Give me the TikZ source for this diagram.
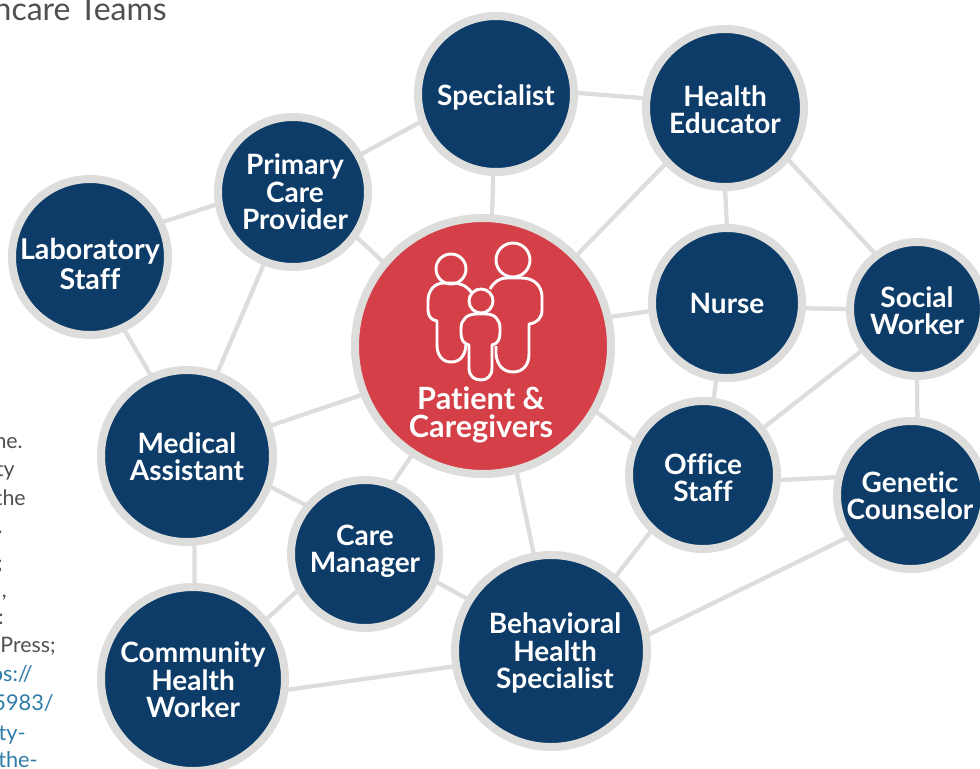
\documentclass[tikz,border=0pt]{standalone}
\usepackage{fontspec}
\usetikzlibrary{backgrounds}
\setmainfont[Ligatures=NoCommon]{Lato}
\definecolor{navy}{HTML}{0D3C69}
\definecolor{ring}{HTML}{DDDEDC}
\definecolor{redc}{HTML}{D43F48}
\definecolor{txt}{HTML}{505050}
\definecolor{lnk}{HTML}{2F7CA8}
\tikzset{
 person/.style={circle,fill=navy,draw=ring,line width=6pt,inner sep=0pt,outer sep=0pt},
 lab/.style={inner sep=0pt,text=white,align=center,font=\fontsize{21}{20.5}\selectfont\bfseries},
 link/.style={draw=ring,line width=3.2pt},
 fig/.style={draw=white,line width=2.2pt,line join=round},
 note/.style={inner sep=0pt,text=txt,anchor=base east,font=\fontsize{16}{16}\selectfont},
 url/.style={inner sep=0pt,text=lnk,anchor=base east,font=\fontsize{16.3}{17}\selectfont}
}
\begin{document}
\begin{tikzpicture}[x=0.75pt,y=-0.75pt]
\useasboundingbox (0,0) rectangle (980,768);
\node[person,minimum size=117pt] (nSp) at (496,94) {};
\node[person,minimum size=118.5pt] (nHe) at (725,108) {};
\node[person,minimum size=112.5pt] (nPc) at (293,192) {};
\node[person,minimum size=117pt] (nLa) at (90,257) {};
\node[person,minimum size=112.5pt] (nNu) at (727,303) {};
\node[person,minimum size=100.5pt] (nSo) at (917,309) {};
\node[person,minimum size=111pt] (nOf) at (703,475) {};
\node[person,minimum size=111pt] (nGe) at (911,495) {};
\node[person,minimum size=129pt] (nMe) at (187,456) {};
\node[person,minimum size=111pt] (nCa) at (365,554) {};
\node[person,minimum size=144pt] (nBe) at (551,651) {};
\node[person,minimum size=138pt] (nCo) at (193,679) {};
\node[person,fill=redc,minimum size=192pt] (nPa) at (483,346) {};
\begin{scope}[on background layer]
\foreach \a/\aa/\b/\bb in {Sp/1/He/173,Sp/200/Pc/29,Sp/268/Pa/86.5,He/223.5/Pa/44,He/270/Nu/90,He/-39/So/127,
 Pc/189.5/La/26,Pc/-35.6/Pa/140.6,Pc/248/Me/70,La/-65/Me/114,Pa/13/Nu/186.5,Pa/202.5/Me/20,Pa/237/Ca/69,
 Pa/-30/Of/154,Pa/-75.7/Be/100,Nu/-4/So/180,Nu/262/Of/82.5,So/217/Of/38,So/270/Ge/85.5,Of/-4.5/Ge/166.7,
 Of/227.6/Be/49,Ge/214/Be/9,Me/-20/Ca/140,Me/-85.5/Co/89,Ca/208/Co/39.6,Ca/-21/Be/148,Co/-7/Be/189}
  \draw[link] (n\a.\aa) -- (n\b.\bb);
\end{scope}
\node[lab] (tSp) at (496,97) {Specialist};
\node[lab] (tHe) at (725,109.5) {Health\\Educator};
\node[lab] (tPc) at (295,192) {Primary\\Care\\Provider};
\node[lab,font=\fontsize{21.5}{22}\selectfont\bfseries] (tLa) at (90,264) {Laboratory\\Staff};
\node[lab] (tNu) at (727,303) {Nurse};
\node[lab] (tSo) at (917,311) {Social\\Worker};
\node[lab] (tOf) at (703,477.5) {Office\\Staff};
\node[lab] (tGe) at (910,496) {Genetic\\Counselor};
\node[lab] (tMe) at (187,457) {Medical\\Assistant};
\node[lab] (tCa) at (365,551) {Care\\Manager};
\node[lab] (tBe) at (555,653) {Behavioral\\Health\\Specialist};
\node[lab] (tCo) at (193,680) {Community\\Health\\Worker};
\node[lab,font=\fontsize{23}{20.5}\selectfont\bfseries] (tPa) at (481,415) {Patient \&\\Caregivers};
% family icon
\draw[fig] (451,269) circle (15);
\draw[fig] (513,260) circle (17);
\draw[fig] (481,301) circle (12);
\draw[fig] (472,293) .. controls (466,285) and (460,283) .. (452,283) -- (444,283)
  .. controls (434,283) and (428,291) .. (428,301) -- (428,310)
  .. controls (428,316) and (431,320) .. (437,321) -- (437,345)
  .. controls (437,356) and (443,362) .. (451,362)
  .. controls (459,362) and (465,357) .. (466,345);
\draw[fig] (490,289) .. controls (494,282) and (499,278) .. (507,278) -- (522,278)
  .. controls (534,278) and (542,286) .. (542,297) -- (542,310)
  .. controls (542,318) and (537,323) .. (529,324) -- (529,354)
  .. controls (529,366) and (522,372) .. (513,372)
  .. controls (504,372) and (497,366) .. (496,354) -- (496,346);
\draw[fig] (476,314) -- (486,314) .. controls (495,314) and (500,320) .. (500,328) -- (500,333)
  .. controls (500,340) and (497,344) .. (492,345) -- (492,368)
  .. controls (492,376) and (487,380) .. (481,380)
  .. controls (474,380) and (469,376) .. (469,368) -- (469,345)
  .. controls (464,344) and (461,340) .. (461,333) -- (461,328)
  .. controls (461,320) and (467,314) .. (476,314);
% page text cut by the crop
\begin{scope}
\clip (0,0) rectangle (980,768);
\node[anchor=base east,inner sep=0pt,text=txt,font=\fontsize{24}{24}\selectfont] (title) at (167,20) {ncare Teams};
\node[note] (t1) at (23,448) {ne.};
\node[note] (t2) at (15,476) {ty};
\node[note] (t3) at (26,505) {the};
\node[note] (t4) at (3,533) {.};
\node[note] (t5) at (3,570) {;};
\node[note] (t6) at (7,597) {,};
\node[note] (t7) at (4,624) {:};
\node[note] (t8) at (56,652) {Press;};
\node[url] (t9) at (33,681) {os://};
\node[url] (t10) at (54,710) {5983/};
\node[url] (t11) at (26,740) {ty-};
\node[url] (t12) at (38,767) {the-};
\end{scope}
\end{tikzpicture}
\end{document}
